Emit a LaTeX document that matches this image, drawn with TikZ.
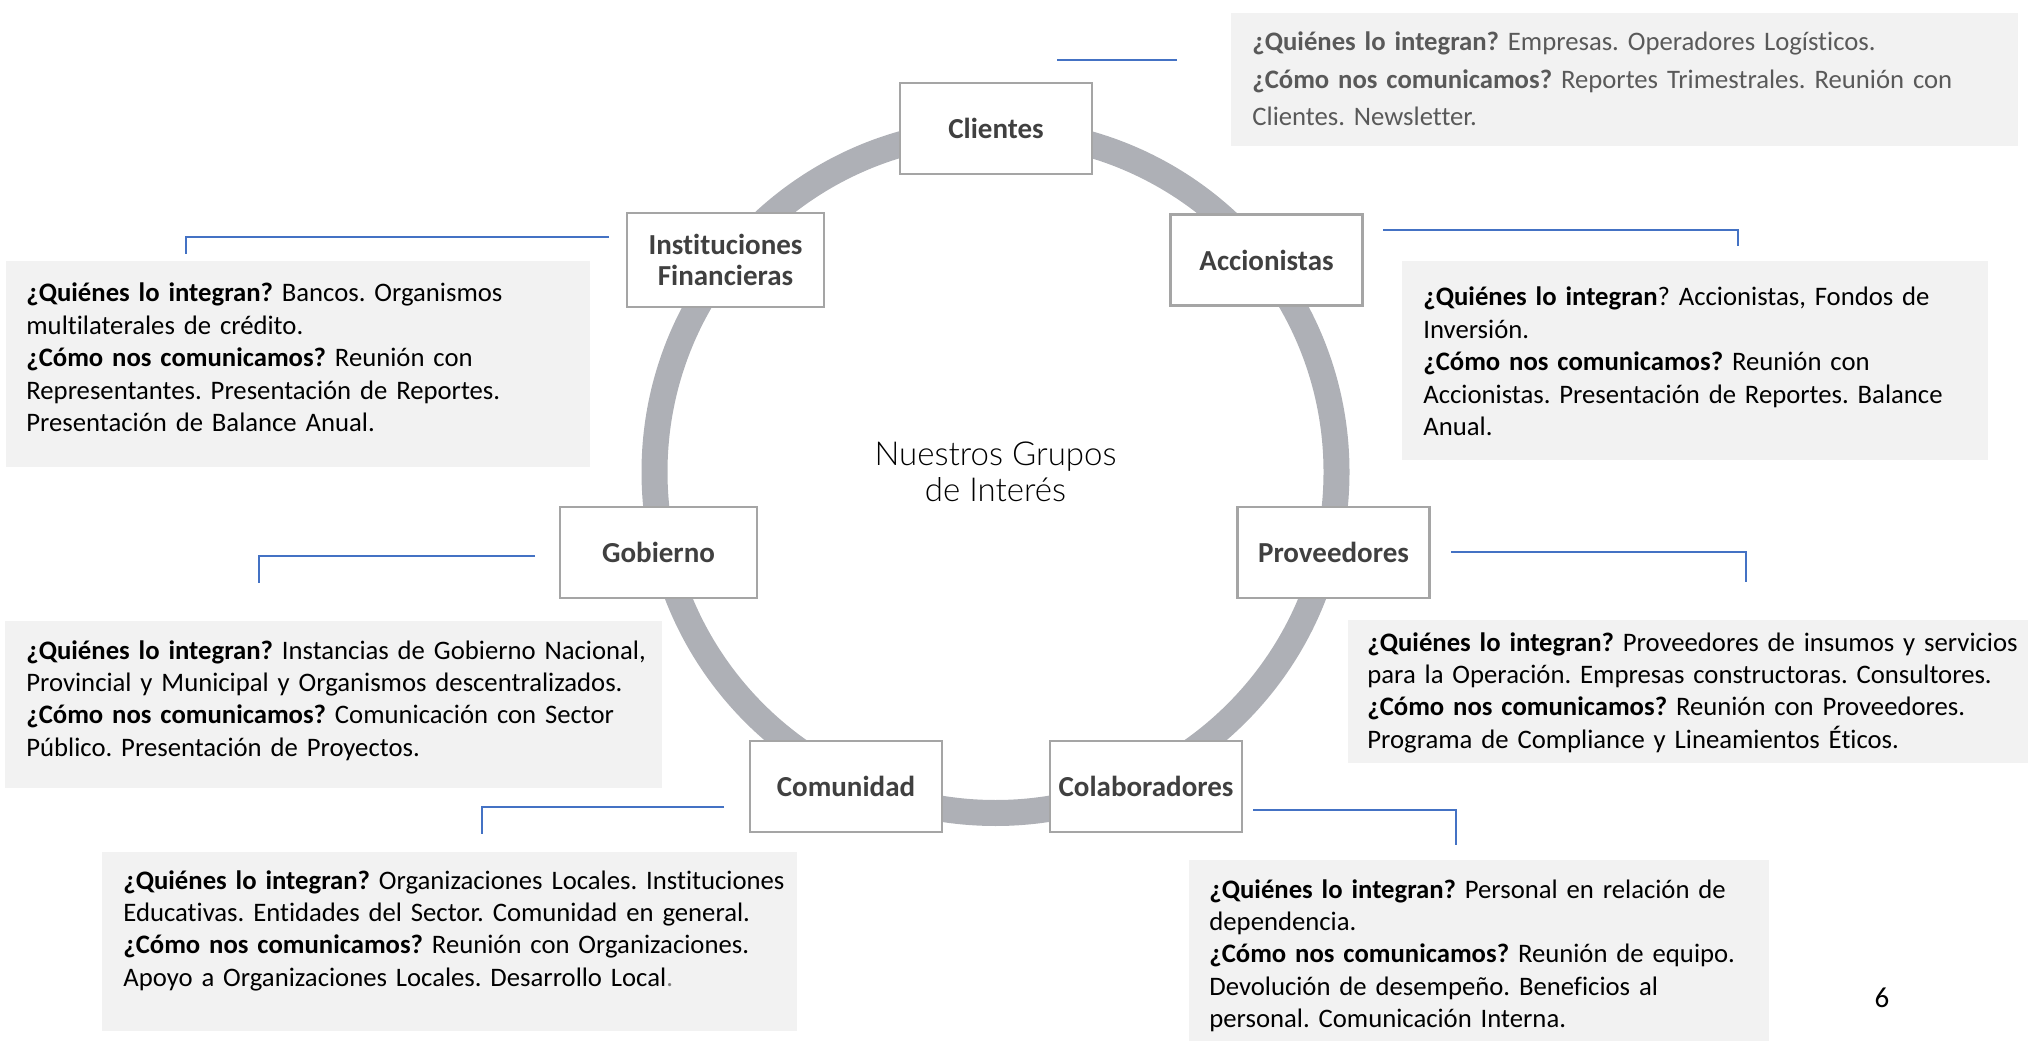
\documentclass[tikz,border=0pt]{standalone}
\usepackage{fontspec}
\setmainfont{Carlito}[Ligatures={TeX,NoCommon}]
\newfontfamily\titlefont{Lato Light}
\definecolor{ringgray}{RGB}{174,176,182}
\definecolor{boxline}{RGB}{165,165,165}
\definecolor{labelgray}{RGB}{64,64,64}
\definecolor{infofill}{RGB}{242,242,242}
\definecolor{linkblue}{RGB}{68,114,196}
\definecolor{softtext}{RGB}{89,89,89}
\newcommand{\quienes}{\textbf{¿Quiénes lo integran?}}
\newcommand{\comunica}{\textbf{¿Cómo nos comunicamos?}}
\frenchspacing

\begin{document}
\begin{tikzpicture}[
    x=0.5pt, y=-0.5pt,
    group/.style={draw=boxline, line width=1.2pt, fill=white, align=center,
      minimum width=96pt, minimum height=45.5pt, text=labelgray,
      font=\fontsize{14.5}{15.5}\selectfont\bfseries},
    info/.style={fill=infofill, anchor=base west, inner ysep=0pt,
      inner xsep=10.5pt, align=left,
      font=\fontsize{13.35}{16.2}\selectfont},
    link/.style={draw=linkblue, line width=0.75pt}]

      \useasboundingbox (0,0) rectangle (2028,1042);

      % ring
      \coordinate (hub) at (995.5,472);
      \draw[ringgray, line width=13pt] (hub) circle[radius=170.5pt];

      \node[font=\titlefont\fontsize{16.5}{18}\selectfont, align=center, text=black]
        (title) at (hub) {Nuestros Grupos\\de Interés};

      % groups
      \node[group] (clientes) at (996,128.5) {Clientes};
      \node[group, minimum width=98.5pt, minimum height=47pt] (financieras) at (725.5,260) {Instituciones\\Financieras};
      \node[group] (accionistas) at (1266.5,260) {Accionistas};
      \node[group, minimum width=98.5pt] (gobierno) at (658.5,552.5) {Gobierno};
      \node[group] (proveedores) at (1333.5,552.5) {Proveedores};
      \node[group] (comunidad) at (846,786.5) {Comunidad};
      \node[group] (colaboradores) at (1146,786.5) {Colaboradores};

      % info boxes
      \node[info, text=softtext, inner xsep=10.5pt, text width=372.5pt,
            text height=19pt, text depth=47.5pt,
            font=\fontsize{13.35}{18.75}\selectfont] (infoClientes) at (1231,51)
        {\quienes{} Empresas. Operadores Logísticos.\\
         \comunica{} Reportes Trimestrales. Reunión con\\
         Clientes. Newsletter.};

      \node[info, inner xsep=10pt, text width=272pt,
            text height=20.5pt, text depth=82.5pt] (infoFinancieras) at (6,302)
        {\quienes{} Bancos. Organismos\\
         multilaterales de crédito.\\
         \comunica{} Reunión con\\
         Representantes. Presentación de Reportes.\\
         Presentación de Balance Anual.};

      \node[info, text width=272pt,
            text height=22.5pt, text depth=77pt] (infoAccionistas) at (1402,306)
        {\textbf{¿Quiénes lo integran}? Accionistas, Fondos de\\
         Inversión.\\
         \comunica{} Reunión con\\
         Accionistas. Presentación de Reportes. Balance\\
         Anual.};

      \node[info, text width=307.5pt,
            text height=19pt, text depth=64.5pt] (infoGobierno) at (5,659)
        {\mbox{\quienes{} Instancias de Gobierno Nacional,}\\
         \mbox{Provincial y Municipal y Organismos descentralizados.}\\
         \comunica{} Comunicación con Sector\\
         Público. Presentación de Proyectos.};

      % last line cut off
      \fill[infofill] (1348,620) rectangle (2028,763);
      \begin{scope}
        \clip (1348,620) rectangle (2028,752);
        \node[info, fill=none, inner xsep=9.5pt, text width=321pt,
              text height=15.5pt, text depth=56pt] (infoProveedores) at (1348,651)
          {\mbox{\quienes{} Proveedores de insumos y servicios}\\
           \mbox{para la Operación. Empresas constructoras. Consultores.}\\
           \comunica{} Reunión con Proveedores.\\
           Programa de Compliance y Lineamientos Éticos.};
      \end{scope}

      \node[info, text width=326.5pt,
            text height=18.5pt, text depth=71pt] (infoComunidad) at (102,889)
        {\mbox{\quienes{} Organizaciones Locales. Instituciones}\\
         Educativas. Entidades del Sector. Comunidad en general.\\
         \comunica{} Reunión con Organizaciones.\\
         Apoyo a Organizaciones Locales. Desarrollo Local\textcolor{gray}{.}};

      \node[info, inner xsep=10pt, text width=270pt,
            text height=19pt, text depth=71.5pt] (infoColaboradores) at (1189,898)
        {\quienes{} Personal en relación de\\
         dependencia.\\
         \comunica{} Reunión de equipo.\\
         Devolución de desempeño. Beneficios al\\
         personal. Comunicación Interna.};

      % connectors
      \coordinate (cliA) at (1177,60);
      \coordinate (cliB) at (1057,60);
      \coordinate (finA) at (609,237);
      \coordinate (finB) at (186,254);
      \coordinate (accA) at (1383,230);
      \coordinate (accB) at (1738,246);
      \coordinate (gobA) at (535,556);
      \coordinate (gobB) at (259,583);
      \coordinate (proA) at (1451,552);
      \coordinate (proB) at (1746,582);
      \coordinate (comA) at (724,807);
      \coordinate (comB) at (482,834);
      \coordinate (colA) at (1253,810);
      \coordinate (colB) at (1456,845);

      \draw[link] (cliA) -- (cliB);
      \foreach \a/\b in {finA/finB, accA/accB, gobA/gobB, proA/proB, comA/comB, colA/colB}
        \draw[link] (\a) -| (\b);

      \node[font=\fontsize{14.5}{17}\selectfont] (pagina) at (1882,998) {6};

    \end{tikzpicture}
\end{document}
